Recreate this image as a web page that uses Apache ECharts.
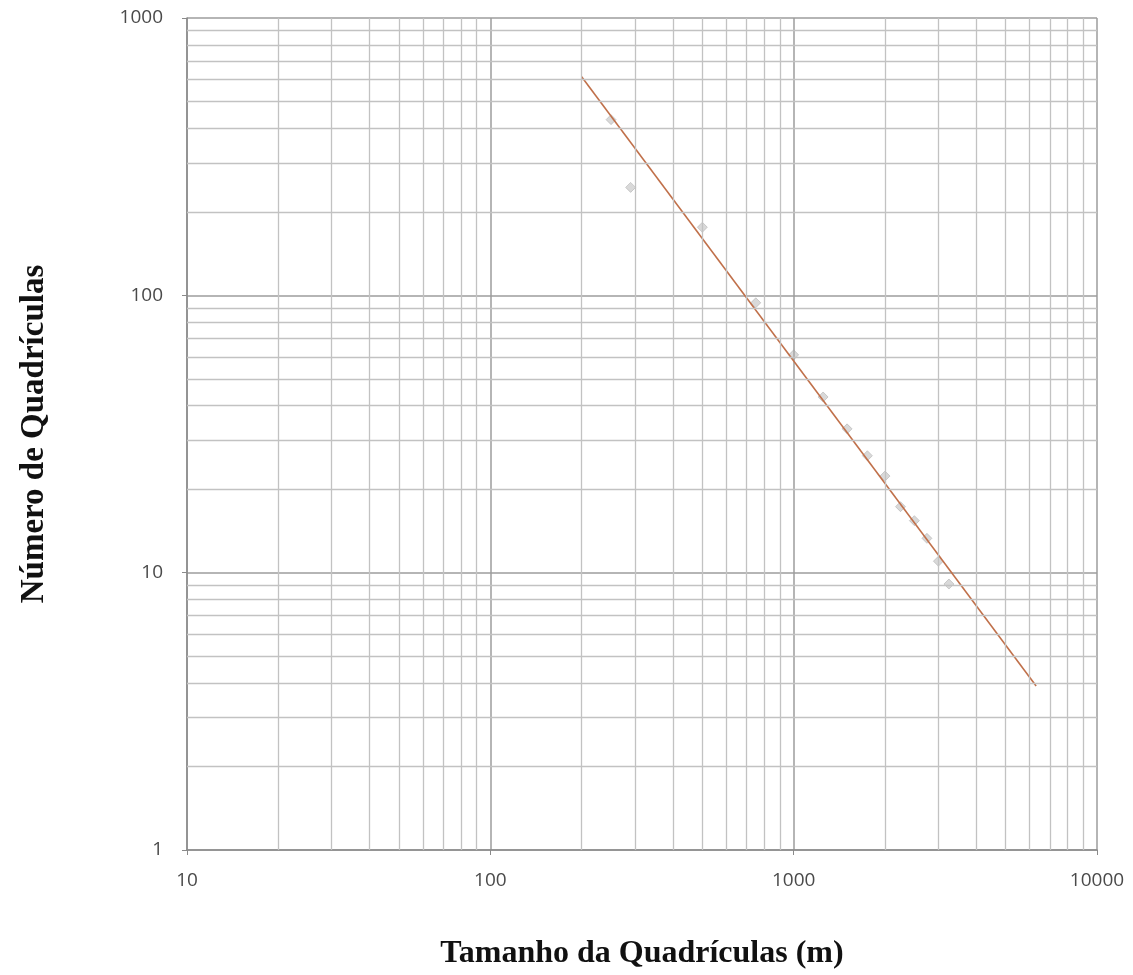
<!DOCTYPE html>
<html>
<head>
<meta charset="utf-8">
<script src="https://cdn.jsdelivr.net/npm/echarts@6/dist/echarts.min.js"></script>
<style>
html,body{margin:0;padding:0;background:#fff;}
#chart{width:1133px;height:975px;}
</style>
</head>
<body>
<div id="chart"></div>
<script>
// Data
const pointSizes = [250, 290, 500, 750, 1000, 1250, 1500, 1750, 2000, 2250, 2500, 2750, 3000, 3250];
const pointCounts = [430, 245, 176, 94, 61, 43, 33, 26.4, 22.3, 17.3, 15.4, 13.3, 11.0, 9.1];
const fitSizes = [200, 6300];
const fitCounts = [614, 3.9];
const xMinorGrid = [20,30,40,50,60,70,80,90,200,300,400,500,600,700,800,900,2000,3000,4000,5000,6000,7000,8000,9000];
const yMinorGrid = [2,3,4,5,6,7,8,9,20,30,40,50,60,70,80,90,200,300,400,500,600,700,800,900];
const xTickLabels = ['10','100','1000','10000'];
const yTickLabels = ['1','10','100','1000'];

const chart = echarts.init(document.getElementById('chart'), null, {renderer:'canvas'});
const labelStyle = {color:'#4a4a4a', fontSize:19, fontFamily:'"Open Sans", sans-serif'};
const minorLine = {color:'#c2c2c2', width:1.3, type:'solid'};

const option = {
  animation:false,
  backgroundColor:'#fff',
  grid:{left:187, top:18, right:36, bottom:123},
  xAxis:{
    type:'log', logBase:10, min:10, max:10000,
    name:'Tamanho da Quadrículas (m)', nameLocation:'middle', nameGap:88,
    nameTextStyle:{fontFamily:'"Liberation Serif", serif', fontWeight:'bold', fontSize:32, color:'#111'},
    axisLine:{show:true, lineStyle:{color:'#8a8a8a', width:1.5}},
    axisTick:{show:true, length:5, lineStyle:{color:'#8a8a8a'}},
    axisLabel:Object.assign({margin:21, formatter:function(v){
      const s = String(Math.round(v)); return xTickLabels.indexOf(s) >= 0 ? s : '';
    }}, labelStyle),
    splitLine:{show:true, lineStyle:{color:'#9c9c9c', width:1.5}}
  },
  yAxis:{
    type:'log', logBase:10, min:1, max:1000,
    name:'Número de Quadrículas', nameLocation:'middle', nameGap:136,
    nameTextStyle:{fontFamily:'"Liberation Serif", serif', fontWeight:'bold', fontSize:33, color:'#111'},
    axisLine:{show:true, lineStyle:{color:'#8a8a8a', width:1.5}},
    axisTick:{show:true, length:5, lineStyle:{color:'#8a8a8a'}},
    axisLabel:Object.assign({margin:24, formatter:function(v){
      const s = String(Math.round(v)); return yTickLabels.indexOf(s) >= 0 ? s : '';
    }}, labelStyle),
    splitLine:{show:true, lineStyle:{color:'#9c9c9c', width:1.5}}
  },
  series:[
    {
      type:'line', data:[], silent:true, z:1,
      markLine:{
        silent:true, symbol:['none','none'], label:{show:false}, animation:false,
        lineStyle:minorLine,
        data: xMinorGrid.map(v => ({xAxis:v})).concat(yMinorGrid.map(v => ({yAxis:v})))
      }
    },
    {
      type:'scatter', z:3,
      symbol:'diamond', symbolSize:10,
      itemStyle:{color:'rgba(175,175,175,0.6)', borderColor:'rgba(150,150,150,0.5)', borderWidth:1},
      data: pointSizes.map((x,i) => [x, pointCounts[i]])
    },
    {
      type:'line', z:4, showSymbol:false, symbol:'none',
      lineStyle:{color:'#c0704a', width:1.6},
      data: fitSizes.map((x,i) => [x, fitCounts[i]])
    }
  ]
};
chart.setOption(option);
</script>
</body>
</html>
